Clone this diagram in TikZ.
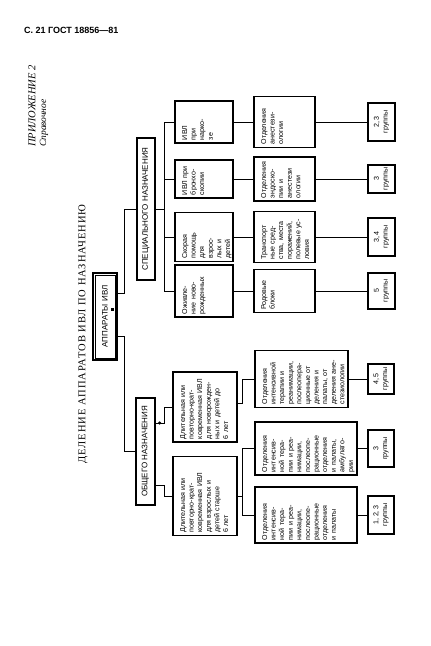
\documentclass[tikz,border=0pt]{standalone}
\usepackage{fontspec}
\setmainfont{Liberation Serif}
\setsansfont{Liberation Sans}
\newfontfamily\ttlfont[LetterSpace=9]{Liberation Serif}
\usepackage{tikz}
\usetikzlibrary{calc}
\tikzset{
  % --- nodes
  blk/.style 2 args = {rotate=90, draw, line width=1.3pt, inner sep=3pt, align=left,
                       font=\sffamily\fontsize{7.1}{8.6}\selectfont,
                       text width=#1pt, text height=9pt, text depth=#2pt},
  grp/.style 2 args = {rotate=90, draw, line width=1.3pt, inner sep=0pt, align=center,
                       font=\sffamily\fontsize{7.1}{8.6}\selectfont,
                       minimum width=#1pt, minimum height=#2pt},
  head/.style 2 args= {rotate=90, draw, line width=1.3pt, inner sep=0pt,
                       font=\sffamily\fontsize{8}{9}\selectfont,
                       minimum width=#1pt, minimum height=#2pt},
  % --- edges
  ln/.style = {line width=0.9pt},
}

\begin{document}
\begin{tikzpicture}[x=1pt, y=-1pt]
  \useasboundingbox (0,0) rectangle (431,646);

  \node[anchor=west, inner sep=0pt, font=\sffamily\bfseries\fontsize{9}{10}\selectfont]
       (hdr) at (24,30) {С. 21 ГОСТ 18856—81};
  \node[rotate=90, anchor=west, inner sep=0pt, font=\itshape\fontsize{10.5}{12}\selectfont]
       (app) at (32,147) {ПРИЛОЖЕНИЕ 2};
  \node[rotate=90, anchor=west, inner sep=0pt, font=\itshape\fontsize{9.5}{11}\selectfont]
       (spr) at (44,147) {Справочное};
  \node[rotate=90, inner sep=0pt, font=\ttlfont\fontsize{10.5}{12}\selectfont]
       (ttl) at (83,334) {ДЕЛЕНИЕ АППАРАТОВ ИВЛ ПО НАЗНАЧЕНИЮ};

  % root and the two branches
  \node[head={87}{24}] (ap) at (105,316.5) {АППАРАТЫ ИВЛ};
  \draw[line width=0.6pt] ($(ap.north east)+(2.6,2.6)$) rectangle ($(ap.south west)+(-2.6,-2.6)$);
  \node[head={142}{18}] (spec) at (146,209) {СПЕЦИАЛЬНОГО НАЗНАЧЕНИЯ};
  \node[head={107}{19}] (obsh) at (145.5,451.5) {ОБЩЕГО НАЗНАЧЕНИЯ};

  % special purpose
  \node[blk={36}{43}] (s1) at (204,122) {ИВЛ\\при\\нарко-\\зе};
  \node[blk={32}{43}] (s2) at (204,179) {ИВЛ при\\бронхо-\\скопии};
  \node[blk={43}{43}] (s3) at (204,237) {Скорая\\помощь\\для\\взрос-\\лых и\\детей};
  \node[blk={46}{43}] (s4) at (204,291) {Оживле-\\ние ново-\\рожденных};

  \node[blk={45}{46}] (u1) at (284.5,122) {Отделения\\анестези-\\ологии};
  \node[blk={38}{46}] (u2) at (284.5,179) {Отделения\\эндоско-\\пии и\\анестези\\ологии};
  \node[blk={45}{46}] (u3) at (284.5,237) {Транспорт\\ные сред-\\ства, места\\поражений,\\полевые ус-\\ловия};
  \node[blk={37}{46}] (u4) at (284.5,291) {Родовые\\блоки};

  \node[grp={38}{27}] (g1) at (381.5,122) {2, 3\\группы};
  \node[grp={28}{27}] (g2) at (381.5,179) {3\\группы};
  \node[grp={38}{27}] (g3) at (381.5,237) {3, 4\\группы};
  \node[grp={36}{27}] (g4) at (381.5,291) {5\\группы};

  % general purpose
  \node[blk={64}{49}] (o1) at (205,407) {Длительная или\\повторно-крат-\\ковременная ИВЛ\\для новорожден-\\ных и детей до\\6 лет};
  \node[blk={73}{49}] (o2) at (205,496) {Длительная или\\повторно-крат-\\ковременная ИВЛ\\для взрослых и\\детей старше\\6 лет};

  \node[blk={51}{78}] (v1) at (301.5,379) {Отделения\\интенсивной\\терапии и\\реанимации,\\послеопера-\\ционные от\\деления и\\палаты, от\\деления ане-\\стезиологии};
  \node[blk={47}{87}] (v2) at (306,448.5) {Отделения\\интенсив-\\ной тера-\\пии и реа-\\нимации,\\послеопе-\\рационные\\отделения\\и палаты,\\амбулато-\\рии};
  \node[blk={50}{87}] (v3) at (306,515) {Отделения\\интенсив-\\ной тера-\\пии и реа-\\нимации,\\послеопе-\\рационные\\отделения\\и палаты};

  \node[grp={30}{26}] (h1) at (381,379) {4, 5\\группы};
  \node[grp={37}{26}] (h2) at (381,448.5) {3\\группы};
  \node[grp={38}{26}] (h3) at (381,515) {1, 2, 3\\группы};

  % connectors
  \draw[ln] (ap.south |- 0,293) -| ($(spec.north)+(-12,0)$) -- (spec.north);
  \draw[ln] (ap.south |- 0,336) -| ($(obsh.north)+(-11,0)$) -- (obsh.north);
  \foreach \i in {1,2,3,4} {
    \draw[ln] (spec.south) -| ($(s\i.north)+(-10,0)$) -- (s\i.north);
    \draw[ln] (s\i.south) -- (u\i.north);
    \draw[ln] (u\i.south) -- (g\i.north);
  }
  \draw[ln] (obsh.south |- 0,423) -| ($(o1.north)+(-8,0)$) -- (o1.north);
  \draw[ln] (obsh.south |- 0,485) -| ($(o2.north)+(-8,0)$) -- (o2.north);
  \draw[ln] (o1.south |- 0,403) -| ($(v1.north)+(-12,0)$) -- (v1.north);
  \draw[ln] (o2.south) -| ($(v2.north)+(-12,0)$) -- (v2.north);
  \draw[ln] (o2.south) -| ($(v3.north)+(-12,0)$) -- (v3.north);
  \foreach \i in {1,2,3}
    \draw[ln] (v\i.south) -- (h\i.north);

  % marks
  \fill ($(ap.south)+(-7,-9)$) rectangle ++(3,3);
  \fill ($(obsh.south |- 0,423)+(4,0)$) circle (1.7pt);
\end{tikzpicture}
\end{document}
